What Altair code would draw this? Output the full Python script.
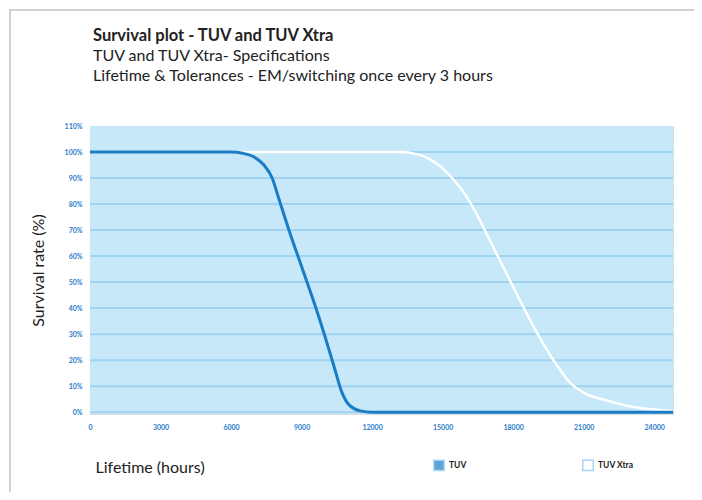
import altair as alt
import pandas as pd

# ---- data ----
tuv_hours = [0, 6000, 6500, 7000, 7400, 7750, 8000, 8500, 9000, 9500, 10000, 10400, 10700, 11000, 11500, 12000, 24800]
tuv_surv = [100, 100, 99.5, 98, 95, 90, 83, 69, 56, 43, 29, 17, 8, 3, 0.5, 0, 0]

xtra_hours = [0, 13200, 13900, 14400, 14900, 15400, 15900, 16400, 16900, 17400, 17900, 18400, 18900, 19400, 19900, 20400, 21100, 22000, 23000, 24000, 24800]
xtra_surv = [100, 100, 99.2, 97.5, 94.5, 90, 84.5, 77, 68, 59, 50, 41, 32.4, 24.5, 17.5, 11.5, 7, 4.5, 2.2, 1, 0.5]

series_names = ["TUV", "TUV Xtra"]
series_colors = ["#1b7cc6", "#ffffff"]
y_ticks = list(range(0, 111, 10))
grid_values = list(range(0, 101, 10))
x_ticks = list(range(0, 24001, 3000))

df = pd.concat([
    pd.DataFrame({"hours": tuv_hours, "survival": tuv_surv, "series": "TUV"}),
    pd.DataFrame({"hours": xtra_hours, "survival": xtra_surv, "series": "TUV Xtra"}),
])
grid_df = pd.DataFrame({"survival": grid_values})

FONT = "Lato"
BLUE_LBL = "#2a7cc9"

x_scale = alt.Scale(domain=[0, 24800], nice=False, zero=False)
y_scale = alt.Scale(domain=[-0.7, 110], nice=False, zero=False)

x_axis = alt.Axis(
    values=x_ticks, grid=False, domain=False, ticks=False, format="d",
    labelOverlap=False,
    labelColor=BLUE_LBL, labelFontSize=7, labelFontWeight="bold",
    labelPadding=9, labelFont=FONT, labelFlush=False,
    title="Lifetime (hours)", titleFont=FONT, titleFontSize=16,
    titleFontWeight="normal", titleColor="#222222",
    titleX=5, titleY=53, titleAlign="left", titleBaseline="middle",
    titleAnchor="start",
)
y_axis = alt.Axis(
    values=y_ticks, grid=False,
    domain=False, ticks=False, labelOverlap=False,
    labelExpr="datum.value + '%'",
    labelColor=BLUE_LBL, labelFontSize=7, labelFontWeight="bold",
    labelPadding=8, labelFont=FONT,
    title="Survival rate (%)", titleFont=FONT, titleFontSize=16,
    titleFontWeight="normal", titleColor="#222222",
    titleX=-52, titleY=144, titleAngle=270,
    titleAlign="center", titleBaseline="middle",
)

x_enc = alt.X("hours:Q", scale=x_scale, axis=x_axis)
y_enc = alt.Y("survival:Q", scale=y_scale, axis=y_axis)

base = alt.Chart(df)

one_row = base.transform_filter("datum.series == 'TUV'").transform_aggregate(n="count()")

frame = one_row.mark_rect(fill="transparent", stroke="#c4c4c4", strokeWidth=1.5).encode(
    x=alt.value(-80), x2=alt.value(608), y=alt.value(-116), y2=alt.value(420)
)

plot_bg = one_row.mark_rect(fill="#c6e8f9").encode(
    x=alt.value(0), x2=alt.value("width"), y=alt.value(0), y2=alt.value("height")
)

grid = alt.Chart(grid_df).mark_rule(color="#9fd3f0", strokeWidth=2).encode(
    y=y_enc,
    x=alt.value(0), x2=alt.value("width"),
)

xtra_line = base.transform_filter("datum.series == 'TUV Xtra'").mark_line(
    color="#ffffff", strokeWidth=2.5, interpolate="monotone"
).encode(x=x_enc, y=y_enc)

tuv_line = base.transform_filter("datum.series == 'TUV'").mark_line(
    color="#1b7cc6", strokeWidth=3, interpolate="monotone"
).encode(x=x_enc, y=y_enc)

legend_layer = base.transform_filter("datum.hours < 0").mark_square(size=100).encode(
    x=x_enc, y=y_enc,
    fill=alt.Fill(
        "series:N",
        scale=alt.Scale(domain=series_names, range=series_colors),
        legend=alt.Legend(
            title=None, orient="none", legendX=343, legendY=333,
            direction="horizontal", symbolType="square", symbolSize=110,
            symbolStrokeColor="#8cc3ee", symbolStrokeWidth=1.5,
            labelFont=FONT, labelFontSize=8.5, labelFontWeight="bold",
            labelColor="#222222", labelOffset=4, columnPadding=112,
        ),
    ),
)

chart = alt.layer(frame, plot_bg, grid, xtra_line, tuv_line, legend_layer).properties(
    width=583,
    height=288,
    autosize=alt.AutoSizeParams(type="none"),
    padding={"left": 82, "top": 118, "right": 21, "bottom": 78},
    title=alt.Title(
        "Survival plot - TUV and TUV Xtra",
        subtitle=["TUV and TUV Xtra- Specifications",
                  "Lifetime & Tolerances - EM/switching once every 3 hours"],
        anchor="start", frame="group", dx=3, offset=0, dy=75,
        font=FONT, fontSize=16.5, fontWeight="bold", color="#222222",
        subtitleFont=FONT, subtitleFontSize=16, subtitleColor="#222222",
        subtitleLineHeight=20, subtitlePadding=4,
    ),
).configure_view(stroke=None).configure(background="white")

chart.save("out.html", embed_options={"renderer": "svg", "actions": False})
